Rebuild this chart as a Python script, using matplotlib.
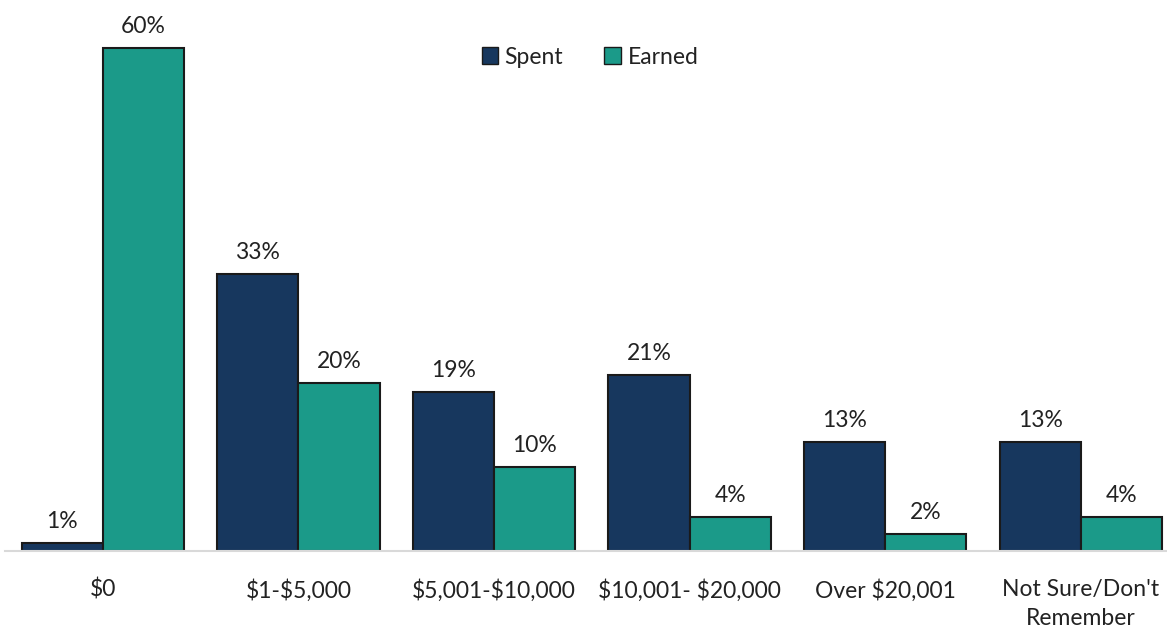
import numpy as np
import matplotlib
matplotlib.use("Agg")
import matplotlib.pyplot as plt
from matplotlib.patches import Patch

categories = ["$0", "$1-$5,000", "$5,001-$10,000", "$10,001- $20,000", "Over $20,001", "Not Sure/Don't\nRemember"]
spent = [1, 33, 19, 21, 13, 13]
earned = [60, 20, 10, 4, 2, 4]

navy = "#17375e"
teal = "#1b9a89"

plt.rcParams['font.family'] = ['Lato', 'DejaVu Sans']
plt.rcParams['text.parse_math'] = False

fig = plt.figure(figsize=(11.67, 6.29), dpi=100)
ax = fig.add_axes([5 / 1167, 78 / 629, 1162 / 1167, 520 / 629])

x = np.arange(len(categories))
w = 0.415
b1 = ax.bar(x - w / 2, spent, w, color=navy, edgecolor="#1a1a1a", linewidth=1.5, label="Spent")
b2 = ax.bar(x + w / 2, earned, w, color=teal, edgecolor="#1a1a1a", linewidth=1.5, label="Earned")

for bars, vals in ((b1, spent), (b2, earned)):
    for r, v in zip(bars, vals):
        ax.annotate(f"{v}%", (r.get_x() + r.get_width() / 2, v), xytext=(0, 8),
                    textcoords="offset points", ha="center", va="bottom", fontsize=16.5, color="#222222")

ax.set_xlim(-0.5, 5.44)
ax.set_ylim(0, 62)
ax.set_yticks([])
ax.set_xticks(x)
ax.set_xticklabels(categories, fontsize=16.5, color="#222222", linespacing=1.5)
ax.tick_params(axis="x", length=0, pad=20)
for s in ["top", "right", "left"]:
    ax.spines[s].set_visible(False)
ax.spines["bottom"].set_color("#d9d9d9")
ax.spines["bottom"].set_linewidth(1.5)

handles = [Patch(facecolor=navy, edgecolor="#1a1a1a", label="Spent"),
           Patch(facecolor=teal, edgecolor="#1a1a1a", label="Earned")]
ax.legend(handles=handles, loc="center", bbox_to_anchor=(585 / 1162, (629 - 78 - 57) / 520),
          ncol=2, frameon=False, fontsize=16.5, handlelength=0.7, handleheight=0.7,
          handletextpad=0.3, columnspacing=1.8, labelcolor="#222222")

fig.savefig("out.png", dpi=100)
